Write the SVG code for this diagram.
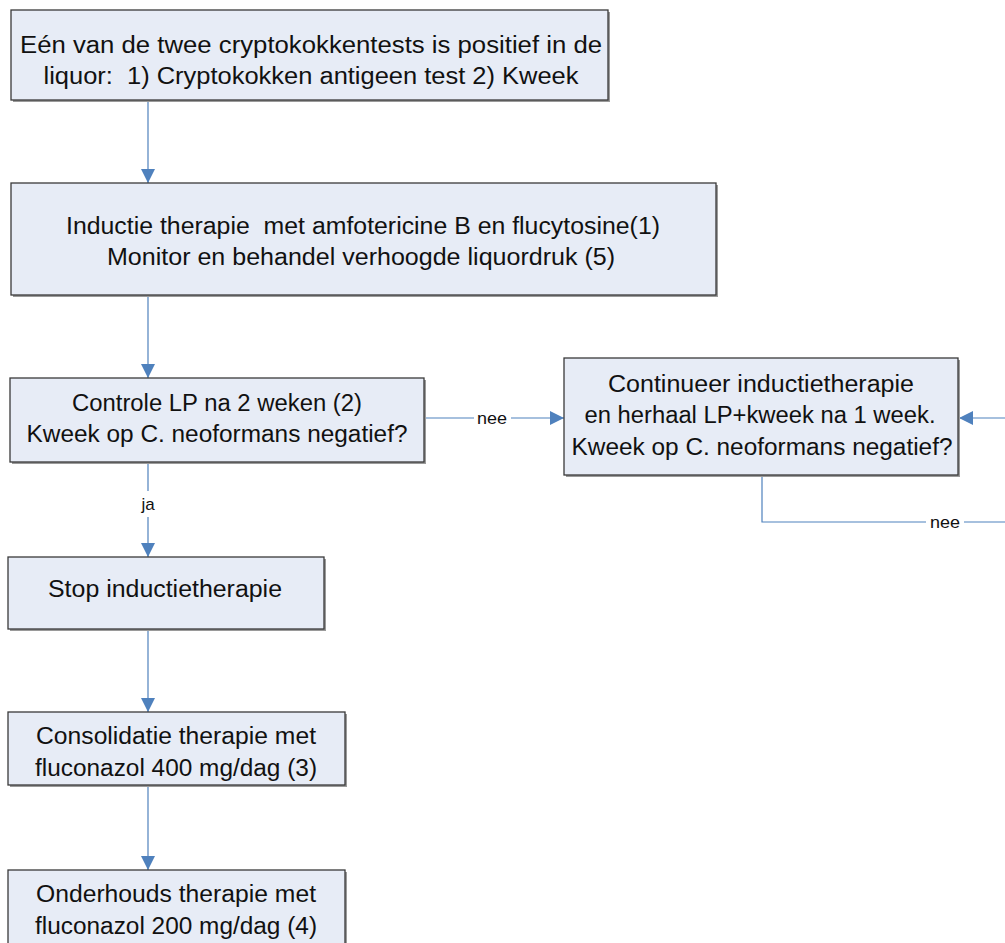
<svg xmlns="http://www.w3.org/2000/svg" width="1005" height="943" viewBox="0 0 1005 943">
<style>
.box{fill:#E7ECF6;stroke:#3A3A3A;stroke-width:1.3}
.sh{fill:#9A9A9A}
.t{font-family:"Liberation Sans",Arial,sans-serif;font-size:23px;fill:#111;text-anchor:middle;white-space:pre}
.lbl{font-family:"Liberation Sans",Arial,sans-serif;font-size:17px;fill:#111;text-anchor:middle}
.c{stroke:#4F81BD;stroke-width:1.2;fill:none}
</style>
<defs>
<marker id="ah" viewBox="0 0 14 14" refX="14" refY="7" markerWidth="14" markerHeight="14" markerUnits="userSpaceOnUse" orient="auto">
<path d="M0,0 L14,7 L0,14 Z" fill="#4F81BD"/>
</marker>
</defs>
<rect width="1005" height="943" fill="#fff"/>
<g id="connectors">
<line class="c" x1="148" y1="100" x2="148" y2="183" marker-end="url(#ah)"/>
<line class="c" x1="148" y1="295" x2="148" y2="378" marker-end="url(#ah)"/>
<line class="c" x1="424" y1="418" x2="564" y2="418" marker-end="url(#ah)"/>
<rect x="474" y="408" width="37" height="20" fill="#fff"/>
<text class="lbl" x="492" y="424" textLength="30" lengthAdjust="spacingAndGlyphs">nee</text>
<line class="c" x1="1005" y1="418" x2="959" y2="418" marker-end="url(#ah)"/>
<polyline class="c" points="762,475 762,522 1005,522"/>
<rect x="926" y="512" width="38" height="20" fill="#fff"/>
<text class="lbl" x="945" y="528" textLength="30" lengthAdjust="spacingAndGlyphs">nee</text>
<line class="c" x1="148" y1="464" x2="148" y2="557" marker-end="url(#ah)"/>
<rect x="137" y="491" width="22" height="26" fill="#fff"/>
<text class="lbl" x="148" y="510">ja</text>
<line class="c" x1="148" y1="629" x2="148" y2="712" marker-end="url(#ah)"/>
<line class="c" x1="148" y1="785" x2="148" y2="870" marker-end="url(#ah)"/>
</g>
<g id="n1">
<rect class="sh" x="13" y="12" width="597" height="90"/>
<rect class="box" x="11" y="10" width="597" height="90"/>
<text class="t" x="311" y="53" textLength="582" lengthAdjust="spacingAndGlyphs">Eén van de twee cryptokokkentests is positief in de</text>
<text class="t" x="311" y="84" textLength="535" lengthAdjust="spacingAndGlyphs" xml:space="preserve">liquor:  1) Cryptokokken antigeen test 2) Kweek</text>
</g>
<g id="n2">
<rect class="sh" x="13" y="185" width="705" height="112"/>
<rect class="box" x="11" y="183" width="705" height="112"/>
<text class="t" x="363" y="234" textLength="594" lengthAdjust="spacingAndGlyphs" xml:space="preserve">Inductie therapie  met amfotericine B en flucytosine(1)</text>
<text class="t" x="361" y="265" textLength="508" lengthAdjust="spacingAndGlyphs">Monitor en behandel verhoogde liquordruk (5)</text>
</g>
<g id="n3">
<rect class="sh" x="12" y="380" width="414" height="84"/>
<rect class="box" x="10" y="378" width="414" height="84"/>
<text class="t" x="217" y="411" textLength="290" lengthAdjust="spacingAndGlyphs">Controle LP na 2 weken (2)</text>
<text class="t" x="217" y="442" textLength="381" lengthAdjust="spacingAndGlyphs">Kweek op C. neoformans negatief?</text>
</g>
<g id="n4">
<rect class="sh" x="566" y="360" width="394" height="117"/>
<rect class="box" x="564" y="358" width="394" height="117"/>
<text class="t" x="761" y="392" textLength="306" lengthAdjust="spacingAndGlyphs">Continueer inductietherapie</text>
<text class="t" x="760" y="423" textLength="351" lengthAdjust="spacingAndGlyphs">en herhaal LP+kweek na 1 week.</text>
<text class="t" x="762" y="455" textLength="381" lengthAdjust="spacingAndGlyphs">Kweek op C. neoformans negatief?</text>
</g>
<g id="n5">
<rect class="sh" x="10" y="559" width="316" height="72"/>
<rect class="box" x="8" y="557" width="316" height="72"/>
<text class="t" x="165" y="597" textLength="234" lengthAdjust="spacingAndGlyphs">Stop inductietherapie</text>
</g>
<g id="n6">
<rect class="sh" x="10" y="714" width="337" height="73"/>
<rect class="box" x="8" y="712" width="337" height="73"/>
<text class="t" x="176" y="744" textLength="280" lengthAdjust="spacingAndGlyphs">Consolidatie therapie met</text>
<text class="t" x="176" y="776" textLength="282" lengthAdjust="spacingAndGlyphs">fluconazol 400 mg/dag (3)</text>
</g>
<g id="n7">
<rect class="sh" x="10" y="872" width="337" height="80"/>
<rect class="box" x="8" y="870" width="337" height="80"/>
<text class="t" x="176" y="902" textLength="280" lengthAdjust="spacingAndGlyphs">Onderhouds therapie met</text>
<text class="t" x="176" y="934" textLength="282" lengthAdjust="spacingAndGlyphs">fluconazol 200 mg/dag (4)</text>
</g>
</svg>
